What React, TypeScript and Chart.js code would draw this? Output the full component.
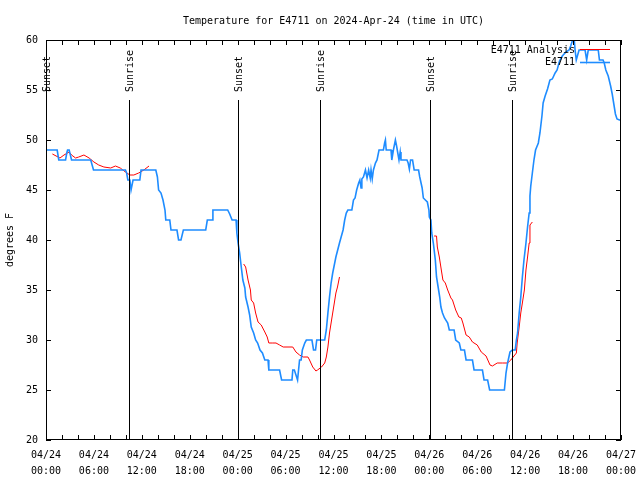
import React, { useEffect, useRef } from "react";
import { Chart, registerables } from "chart.js";

Chart.register(...registerables);

const TITLE = "Temperature for E4711 on 2024-Apr-24 (time in UTC)";
const Y_TITLE = "degrees F";
const X_DATES = ["04/24", "04/24", "04/24", "04/24", "04/25", "04/25", "04/25", "04/25", "04/26", "04/26", "04/26", "04/26", "04/27"];
const X_TIMES = ["00:00", "06:00", "12:00", "18:00", "00:00", "06:00", "12:00", "18:00", "00:00", "06:00", "12:00", "18:00", "00:00"];

const sunsetHours = [0.05, 24.05, 48.08];
const sunriseHours = [10.4, 34.3, 58.3];

const sensorHours = [
  0, 1.4, 1.6, 2.45, 2.6, 2.7, 2.9, 3.2, 5.6, 5.95, 9.95, 10.1, 10.25, 10.5, 10.65, 10.9, 11.75, 11.9, 13.75, 13.95,
  14.1, 14.4, 14.65, 14.9, 15.0, 15.5, 15.65, 16.4, 16.6, 16.9, 17.2, 20.0, 20.2, 20.8, 20.9, 22.75, 23.0, 23.3, 23.8, 23.9,
  24.05, 24.25, 24.45, 24.65, 24.9, 25.0, 25.3, 25.5, 25.7, 26.0, 26.25, 26.5, 26.8, 27.1, 27.4, 27.8, 27.9, 29.25, 29.5, 30.8,
  30.9, 31.1, 31.3, 31.5, 31.75, 31.95, 32.1, 32.4, 32.6, 33.3, 33.5, 33.75, 33.9, 34.9, 35.1, 35.3, 35.5, 35.7, 35.9, 36.3,
  36.75, 37.2, 37.4, 37.6, 37.8, 38.3, 38.5, 38.7, 38.9, 39.15, 39.3, 39.45, 39.55, 39.75, 40.0, 40.2, 40.4, 40.6, 40.7, 40.85,
  41.0, 41.25, 41.45, 41.7, 42.25, 42.4, 42.5, 42.6, 43.2, 43.3, 43.5, 43.75, 43.9, 44.05, 44.2, 44.35, 44.45, 45.2, 45.35, 45.5,
  45.65, 45.9, 46.1, 46.65, 46.8, 47.1, 47.25, 47.5, 47.75, 47.95, 48.0, 48.2, 48.3, 48.5, 48.75, 48.9, 49.1, 49.3, 49.45, 49.65,
  49.9, 50.3, 50.5, 51.1, 51.3, 51.75, 51.95, 52.4, 52.6, 53.4, 53.6, 54.65, 54.85, 55.3, 55.55, 57.4, 57.6, 57.8, 58.1, 58.4,
  58.75, 58.9, 59.05, 59.25, 59.45, 59.65, 59.85, 60.1, 60.3, 60.5, 60.6, 60.7, 60.9, 61.1, 61.3, 61.65, 61.85, 62.1, 62.25, 62.5,
  62.8, 63.1, 63.4, 63.75, 64.0, 64.3, 64.65, 65.1, 65.5, 65.7, 65.9, 66.1, 66.25, 66.4, 66.75, 67.5, 67.7, 67.9, 69.15, 69.3,
  69.75, 69.9, 70.1, 70.4, 70.7, 70.9, 71.1, 71.3, 71.5, 71.8, 72,
];
const sensorTemps = [
  49, 49, 48, 48, 48.7, 49, 49, 48, 48, 47, 47, 46.7, 46, 46, 45, 46, 46, 47, 47, 46.3,
  45, 44.7, 44, 43, 42, 42, 41, 41, 40, 40, 41, 41, 42, 42, 43, 43, 42.6, 42, 42, 40.7,
  39.7, 38.7, 37.3, 36, 35.2, 34.3, 33.3, 32.5, 31.3, 30.7, 30, 29.7, 29, 28.7, 28, 28, 27, 27, 26, 26,
  27, 27, 26.5, 26, 28, 28, 29, 29.7, 30, 30, 29, 29, 30, 30, 31, 32.7, 34.3, 35.7, 36.7, 38.3,
  39.7, 41, 42, 42.7, 43, 43, 44, 44.2, 45, 45.7, 46, 45.2, 46.1, 46.3, 47, 46.2, 47, 46.2, 47, 46.1,
  47, 47.7, 48, 49, 49, 49.7, 50, 49, 49, 48, 49, 50, 49.4, 48.7, 48, 48.8, 48, 48, 47.7, 47.1,
  48, 48, 47, 47, 46.3, 45.2, 44.2, 44, 43.8, 43, 42.3, 42, 40.7, 39.7, 38, 36.3, 35.3, 34.3, 33.3, 32.7,
  32.2, 31.7, 31, 31, 30, 29.7, 29, 29, 28, 28, 27, 27, 26, 26, 25, 25, 26.7, 27.7, 28.8, 29,
  29, 30, 30.7, 32.7, 34.3, 36.3, 38, 39.7, 41.3, 42.7, 44.4, 45.4, 46.7, 48, 49, 49.7, 50.7, 52.4, 53.7, 54.4,
  55.1, 56, 56.1, 56.7, 57, 57.9, 58.4, 58.8, 59, 59.4, 59.9, 60.5, 59, 58, 59, 59, 58, 59, 59, 58,
  58, 57.7, 57, 56.4, 55.4, 54.6, 53.6, 52.6, 52.1, 52, 52,
];

// null entries split the analysis line into its three separate runs
const analysisHours = [
  0.8, 1.75, 2.25, 2.9, 3.2, 3.7, 4.1, 4.75, 5.4, 6.0, 6.6, 7.25, 8.1, 8.7, 9.3, 9.95, 10.5, 11.0, 11.6, 12.25, 12.9,
  18,
  24.75, 25.0, 25.3, 25.6, 25.7, 26.0, 26.25, 26.55, 26.95, 27.4, 27.7, 27.9, 28.4, 28.8, 29.25, 29.7, 30.9, 31.3, 31.75, 32.2,
  32.8, 33.0, 33.4, 33.8, 34.0, 34.5, 34.9, 35.1, 35.3, 35.5, 35.7, 35.9, 36.1, 36.3, 36.5, 36.75,
  42,
  48.6, 48.9, 49.0, 49.25, 49.5, 49.7, 50.0, 50.3, 50.7, 50.9, 51.3, 51.7, 52.0, 52.2, 52.6, 53.0, 53.4, 54.0, 54.5, 55.1,
  55.6, 55.9, 56.5, 57.15, 57.8, 58.2, 58.6, 58.9, 59.0, 59.25, 59.45, 59.65, 59.9, 60.1, 60.3, 60.5, 60.6, 60.9,
];
const analysisTemps = [
  48.6, 48.2, 48.5, 48.8, 48.5, 48.2, 48.3, 48.5, 48.2, 47.8, 47.5, 47.3, 47.2, 47.4, 47.2, 46.8, 46.5, 46.5, 46.7, 47.0, 47.4,
  null,
  37.6, 37.3, 36, 35, 34, 33.7, 32.7, 31.8, 31.5, 30.8, 30.3, 29.7, 29.7, 29.7, 29.5, 29.3, 29.3, 28.8, 28.5, 28.3,
  28.3, 28.0, 27.3, 26.9, 27.0, 27.3, 27.7, 28.3, 29.3, 30.7, 31.7, 32.7, 33.7, 34.7, 35.3, 36.3,
  null,
  40.4, 40.4, 39.3, 38.3, 37, 36, 35.7, 35, 34.2, 34.0, 33, 32.3, 32.2, 31.7, 30.5, 30.3, 29.8, 29.5, 28.8, 28.4,
  27.5, 27.4, 27.7, 27.7, 27.7, 28.0, 28.4, 28.7, 29.7, 31.3, 32.7, 33.7, 35, 37, 38.3, 39.7, 41.5, 41.8,
];

const FAMILY = '"DejaVu Sans Mono", monospace';
const FONT_SIZE = 10;
const FONT = `${FONT_SIZE}px ${FAMILY}`;
const RED = "#ff0000";
const BLUE = "#1e8cff";

const overlay = {
  id: "overlay",
  afterDatasetsDraw(chart: any) {
    const { ctx, chartArea: a, scales } = chart;
    const xs = scales.x;
    const ys = scales.y;
    ctx.save();
    ctx.strokeStyle = "#000";
    ctx.fillStyle = "#000";
    ctx.lineWidth = 1;
    ctx.font = FONT;

    // frame
    ctx.strokeRect(a.left + 0.5, a.top + 0.5, a.right - a.left - 1, a.bottom - a.top - 1);

    // ticks (inward)
    ctx.beginPath();
    for (let h = 0; h <= 72; h += 2) {
      const px = Math.round(xs.getPixelForValue(h)) + 0.5;
      ctx.moveTo(px, a.bottom);
      ctx.lineTo(px, a.bottom - 5);
      ctx.moveTo(px, a.top);
      ctx.lineTo(px, a.top + 5);
    }
    for (let v = 20; v <= 60; v += 5) {
      const py = Math.round(ys.getPixelForValue(v)) + 0.5;
      ctx.moveTo(a.left, py);
      ctx.lineTo(a.left + 5, py);
      ctx.moveTo(a.right, py);
      ctx.lineTo(a.right - 5, py);
    }
    ctx.stroke();

    // sunrise / sunset markers
    const drawSun = (hours: number[], label: string) => {
      hours.forEach((h) => {
        const px = Math.round(xs.getPixelForValue(h)) + 0.5;
        ctx.beginPath();
        ctx.moveTo(px, a.top + 60);
        ctx.lineTo(px, a.bottom);
        ctx.stroke();
        ctx.save();
        ctx.translate(px + 1, a.top + 52);
        ctx.rotate(-Math.PI / 2);
        ctx.textAlign = "left";
        ctx.textBaseline = "middle";
        ctx.fillText(label, 0, 0);
        ctx.restore();
      });
    };
    drawSun(sunsetHours, "Sunset");
    drawSun(sunriseHours, "Sunrise");

    // title
    ctx.textAlign = "center";
    ctx.textBaseline = "middle";
    ctx.fillText(TITLE, (a.left + a.right) / 2, 21);

    // y axis title
    ctx.save();
    ctx.translate(10, (a.top + a.bottom) / 2);
    ctx.rotate(-Math.PI / 2);
    ctx.fillText(Y_TITLE, 0, 0);
    ctx.restore();

    // legend (gnuplot style, top right inside plot)
    chart.data.datasets.forEach((ds: any, i: number) => {
      const y = a.top + 10 + i * 12.5;
      ctx.textAlign = "right";
      ctx.textBaseline = "middle";
      ctx.fillStyle = "#000";
      ctx.fillText(ds.label, a.right - 46, y);
      ctx.beginPath();
      ctx.strokeStyle = ds.borderColor;
      ctx.lineWidth = ds.borderWidth;
      ctx.moveTo(a.right - 41, Math.round(y) - 0.5);
      ctx.lineTo(a.right - 11, Math.round(y) - 0.5);
      ctx.stroke();
    });
    ctx.restore();
  },
};

export default function App() {
  const ref = useRef<HTMLCanvasElement | null>(null);

  useEffect(() => {
    if (!ref.current) return;
    const sensor = sensorHours.map((h, i) => ({ x: h, y: sensorTemps[i] }));
    const analysis = analysisHours.map((h, i) => ({ x: h, y: analysisTemps[i] }));
    const chart = new Chart(ref.current, {
      type: "line",
      data: {
        datasets: [
          {
            label: "E4711 Analysis",
            data: analysis as any,
            borderColor: RED,
            borderWidth: 1,
            pointRadius: 0,
            tension: 0,
            spanGaps: false,
            order: 1,
          },
          {
            label: "E4711",
            data: sensor as any,
            borderColor: BLUE,
            borderWidth: 1.6,
            pointRadius: 0,
            tension: 0,
            order: 0,
          },
        ],
      },
      options: {
        animation: false,
        responsive: false,
        devicePixelRatio: 1,
        layout: { padding: { top: 40, right: 19, left: 0, bottom: 0 } },
        plugins: {
          legend: { display: false },
          title: { display: false },
          tooltip: { enabled: false },
        },
        scales: {
          x: {
            type: "linear",
            min: 0,
            max: 72,
            grid: { display: false, drawTicks: false },
            border: { display: false },
            ticks: {
              stepSize: 6,
              autoSkip: false,
              maxRotation: 0,
              padding: 7,
              color: "#000",
              font: { family: FAMILY, size: FONT_SIZE, lineHeight: 16 / FONT_SIZE },
              callback: (_v: any, i: number) => [X_DATES[i], X_TIMES[i]],
            },
            afterFit: (s: any) => {
              s.height = 40;
              s.paddingLeft = 0;
              s.paddingRight = 0;
            },
          },
          y: {
            min: 20,
            max: 60,
            grid: { display: false, drawTicks: false },
            border: { display: false },
            ticks: {
              stepSize: 5,
              padding: 8,
              color: "#000",
              font: { family: FAMILY, size: FONT_SIZE },
            },
            afterFit: (s: any) => {
              s.width = 46;
              s.paddingTop = 0;
              s.paddingBottom = 0;
            },
          },
        },
      },
      plugins: [overlay],
    });
    return () => chart.destroy();
  }, []);

  return (
    <div style={{ position: "absolute", left: 0, top: 0, width: 640, height: 480, background: "#fff" }}>
      <canvas ref={ref} width={640} height={480} />
    </div>
  );
}
